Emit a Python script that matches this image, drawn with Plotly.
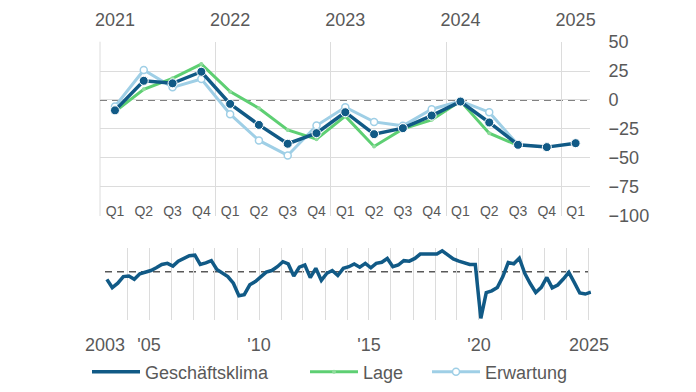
import plotly.graph_objects as go
import pandas as pd

# ---------------- data ----------------
quarters = ["Q1", "Q2", "Q3", "Q4", "Q1", "Q2", "Q3", "Q4", "Q1", "Q2", "Q3", "Q4",
            "Q1", "Q2", "Q3", "Q4", "Q1"]
years = ["2021", "2022", "2023", "2024", "2025"]
klima = [-9.0, 16.6, 14.4, 24.4, -3.4, -21.6, -37.9, -28.7, -10.6, -29.6, -24.4, -13.5,
         -1.4, -19.5, -38.8, -40.8, -37.4]
lage = [-10.0, 9.2, 18.7, 31.0, 7.2, -7.2, -25.9, -33.9, -14.0, -40.2, -25.0, -17.2,
        -1.0, -28.7, -39.4, None, None]
erwartung = [-5.7, 25.9, 10.9, 18.1, -12.3, -35.0, -48.0, -22.2, -6.3, -19.0, -22.4, -8.0,
             -1.0, -10.6, -38.8, None, None]
y_ticks = [50, 25, 0, -25, -50, -75, -100]

# long history of Geschäftsklima, quarterly 2003 Q1 .. 2020 Q4
hist_klima = [-14, -29, -21, -9,
              -8, -14, -4, -1,
              2, 7, 13, 15,
              10, 19, 24, 29,
              30, 13, 16, 20,
              4, -3, -9, -21,
              -44, -42, -24, -18,
              -10, -1, 2, 9,
              18, 14, -8, 8,
              12, -11, 6, -16,
              -3, 2, -7, 6,
              9, 14, 8, 15,
              7, 15, 17, 24,
              9, 12, 20, 19,
              24, 32, 32, 32,
              32, 38, 30, 23,
              19, 16, 13, 13,
              -85, -38, -35, -29]
long_tick_years = [2003, 2005, 2010, 2015, 2020, 2025]
long_tick_text = ["2003", "'05", "'10", "'15", "'20", "2025"]

# ---------------- derived ----------------
pos = list(range(len(quarters)))
year_pos = pos[::4]
long_vals = hist_klima + klima
long_dates = pd.date_range("2003-02-01", periods=len(long_vals), freq="3MS")
long_tick_dates = [f"{y}-01-01" for y in long_tick_years]

DARK = "#115a86"
GREEN = "#5ecf73"
LIGHT = "#9fcfe6"
GRID = "#dcdcdc"
TXT = "#595959"
FONT = "Liberation Sans, Arial, sans-serif"
W, H = 696, 392

fig = go.Figure()

fig.add_trace(go.Scatter(
    x=pos, y=erwartung, name="Erwartung", mode="lines+markers",
    line=dict(color=LIGHT, width=3),
    marker=dict(size=7, color="white", line=dict(color=LIGHT, width=1.5)),
    xaxis="x", yaxis="y", legend="legend3"))
fig.add_trace(go.Scatter(
    x=pos, y=lage, name="Lage", mode="lines+markers",
    line=dict(color=GREEN, width=3),
    marker=dict(size=4, color="#8fdc9c"),
    xaxis="x", yaxis="y", legend="legend2"))
fig.add_trace(go.Scatter(
    x=pos, y=klima, name="Geschäftsklima", mode="lines+markers",
    line=dict(color=DARK, width=3.5),
    marker=dict(size=9, color=DARK, line=dict(color="white", width=1)),
    xaxis="x", yaxis="y", showlegend=False))
# invisible carrier so that the year axis on top is drawn
fig.add_trace(go.Scatter(
    x=pos, y=klima, mode="none", xaxis="x2", yaxis="y",
    showlegend=False, hoverinfo="skip"))
fig.add_trace(go.Scatter(
    x=long_dates, y=long_vals, name="Geschäftsklima", mode="lines",
    line=dict(color=DARK, width=3.5),
    xaxis="x3", yaxis="y2", legend="legend"))

axfont = dict(family=FONT, size=18, color=TXT)
TOP_Y0, TOP_Y1 = 216, 41.7
xr = [-0.52, 16.5]

fig.update_layout(
    template="none",
    width=W, height=H,
    margin=dict(l=0, r=0, t=0, b=0),
    paper_bgcolor="white", plot_bgcolor="rgba(0,0,0,0)",
    font=dict(family=FONT, color=TXT),
    hovermode=False,
    xaxis=dict(
        domain=[100 / W, 590 / W], range=xr, anchor="free",
        position=1 - 198 / H, side="bottom",
        tickmode="array", tickvals=pos, ticktext=quarters,
        ticks="outside", ticklen=0, tickcolor="rgba(0,0,0,0)", showgrid=False,
        showline=False, zeroline=False, automargin=False,
        tickfont=dict(family=FONT, size=14, color=TXT),
        minor=dict(tickmode="array", tickvals=[-0.5, 3.5, 7.5, 11.5, 15.5],
                   showgrid=True, gridcolor=GRID, gridwidth=1, ticks=""),
    ),
    xaxis2=dict(
        overlaying="x", side="top", anchor="y", range=xr,
        domain=[100 / W, 590 / W],
        tickmode="array", tickvals=year_pos, ticktext=years,
        showgrid=False, zeroline=False, showline=False, automargin=False,
        ticks="outside", ticklen=8, tickcolor="rgba(0,0,0,0)",
        tickfont=axfont,
    ),
    yaxis=dict(
        domain=[1 - TOP_Y0 / H, 1 - TOP_Y1 / H], range=[-100.4, 50.4], anchor="x2",
        side="right", tickmode="array", tickvals=y_ticks,
        showgrid=True, gridcolor=GRID, gridwidth=1, zeroline=False,
        showline=False, automargin=False,
        ticks="outside", ticklen=14, tickcolor="rgba(0,0,0,0)",
        tickfont=axfont,
    ),
    xaxis3=dict(
        type="date", domain=[104.3 / W, 591.4 / W], anchor="y2",
        range=["2002-12-20", "2025-02-10"],
        tickmode="array", tickvals=long_tick_dates, ticktext=long_tick_text,
        showgrid=True, gridcolor=GRID, gridwidth=1, zeroline=False,
        showline=False, automargin=False,
        ticks="outside", ticklen=8, tickcolor="rgba(0,0,0,0)",
        tickfont=axfont,
        minor=dict(dtick="M12", tick0="2003-01-01", showgrid=True,
                   gridcolor=GRID, gridwidth=1, ticks=""),
    ),
    yaxis2=dict(
        domain=[1 - 320 / H, 1 - 248 / H], range=[-88, 43], anchor="x3",
        showticklabels=False, showgrid=False, zeroline=False, showline=False,
        ticks="", automargin=False,
    ),
    shapes=[
        dict(type="line", xref="x domain", yref="y domain", x0=0, x1=0, y0=0, y1=1,
             line=dict(color=GRID, width=1), layer="below"),
        dict(type="line", xref="x domain", yref="y", x0=0, x1=1, y0=0, y1=0,
             line=dict(color=TXT, width=1.5, dash="7px,5px"), layer="below"),
        dict(type="line", xref="x3", yref="y2", x0="2003-01-01", x1="2025-01-01",
             y0=0, y1=0, line=dict(color=TXT, width=1.5, dash="7px,5px"),
             layer="below"),
    ],
    legend=dict(orientation="h", x=87 / W, y=1 - 372 / H, xanchor="left",
                yanchor="middle", font=dict(family=FONT, size=18, color=TXT),
                bgcolor="rgba(0,0,0,0)", itemwidth=48),
    legend2=dict(orientation="h", x=305 / W, y=1 - 372 / H, xanchor="left",
                 yanchor="middle", font=dict(family=FONT, size=18, color=TXT),
                 bgcolor="rgba(0,0,0,0)", itemwidth=48),
    legend3=dict(orientation="h", x=427 / W, y=1 - 372 / H, xanchor="left",
                 yanchor="middle", font=dict(family=FONT, size=18, color=TXT),
                 bgcolor="rgba(0,0,0,0)", itemwidth=48),
    showlegend=True,
)

fig.write_html("out.html", config={"displayModeBar": False},
               post_script="document.body.style.margin='0';")
